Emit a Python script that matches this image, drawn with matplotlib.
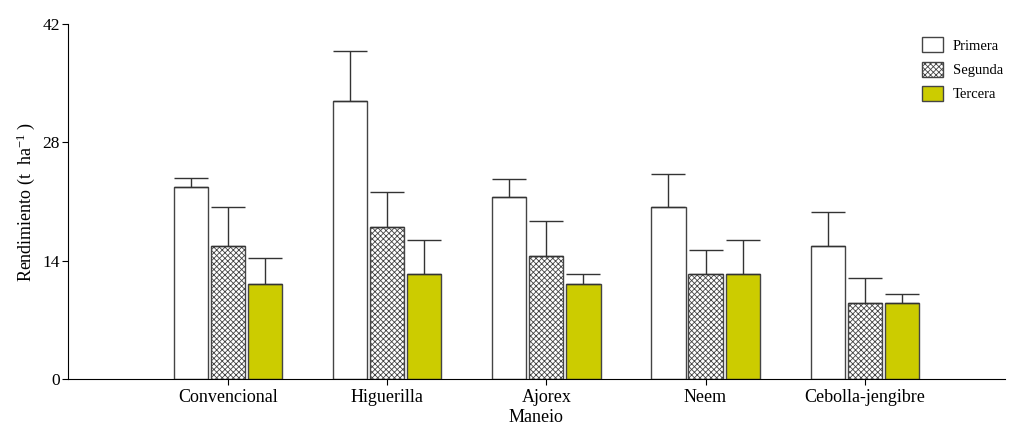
import numpy as np
import matplotlib
matplotlib.use('Agg')
import matplotlib.pyplot as plt

plt.rcParams['font.family'] = ['Liberation Serif', 'DejaVu Serif']
plt.rcParams['mathtext.fontset'] = 'custom'
plt.rcParams['mathtext.rm'] = 'Liberation Serif'
plt.rcParams['mathtext.it'] = 'Liberation Serif'
plt.rcParams['hatch.linewidth'] = 0.6

# datos
categorias = ['Convencional', 'Higuerilla', 'Ajorex', 'Neem', 'Cebolla-jengibre']
series = ['Primera', 'Segunda', 'Tercera']
primera = [22.7, 32.9, 21.5, 20.4, 15.8]
segunda = [15.8, 18.0, 14.6, 12.4, 8.95]
tercera = [11.2, 12.4, 11.2, 12.4, 8.95]
err_primera = [1.1, 5.9, 2.2, 3.85, 4.0]
err_segunda = [4.6, 4.1, 4.15, 2.9, 3.05]
err_tercera = [3.1, 4.1, 1.2, 4.1, 1.15]

valores = [primera, segunda, tercera]
errores = [err_primera, err_segunda, err_tercera]
colores = ['white', 'white', '#cccc00']
tramas = [None, 'xxxxxx', None]

fig = plt.figure(figsize=(10.16, 4.25), dpi=100)
ax = fig.add_axes([0.067, 0.108, 0.922, 0.8355])

x = np.arange(len(categorias))
ancho = 0.215
paso = 0.233
for i in range(3):
    pos = x + (i - 1) * paso
    ax.bar(pos, valores[i], ancho, color=colores[i], edgecolor='#444444',
           linewidth=1.0, hatch=tramas[i], label=series[i], zorder=2)
    ax.errorbar(pos, valores[i], yerr=[np.zeros(5), errores[i]], fmt='none',
                ecolor='#333333', elinewidth=1.0, capsize=12, capthick=1.0, zorder=3)

ax.set_xlim(-1.004, 4.88)
ax.set_ylim(0, 42)
ax.set_yticks([0, 14, 28, 42])
ax.set_xticks(x)
ax.set_xticklabels(categorias, fontsize=13)
ax.tick_params(axis='y', labelsize=12.5, length=4, direction='out', pad=2)
ax.tick_params(axis='x', length=4, direction='out', pad=3)
ax.spines['top'].set_visible(False)
ax.spines['right'].set_visible(False)
ax.set_ylabel('Rendimiento (t  ha$^{-1}$ )', fontsize=13, labelpad=4)
ax.set_xlabel('Maneio', fontsize=13, labelpad=2)

ax.legend(loc='upper right', bbox_to_anchor=(1.012, 1.0), frameon=False,
          fontsize=10.5, handlelength=1.4, handleheight=1.2, handletextpad=0.7,
          labelspacing=0.62)

fig.savefig('out.png', dpi=100)
